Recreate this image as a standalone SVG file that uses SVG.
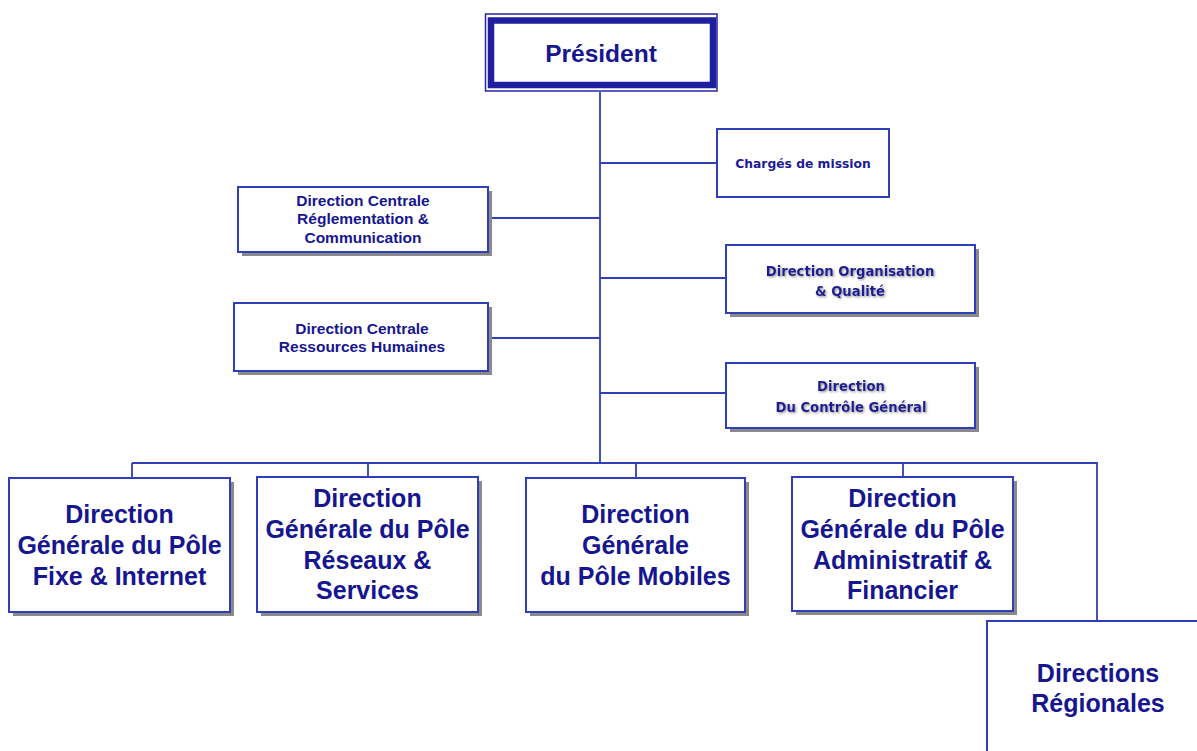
<svg xmlns="http://www.w3.org/2000/svg" width="1197" height="751" viewBox="0 0 1197 751">
<defs>
<style>
.box{fill:#ffffff;stroke:#2e3fb8;stroke-width:2}
.shadow{fill:#8a8a8a}
.ln{fill:none;stroke:#2e3fb8;stroke-width:1.8}
.t{font-family:"Liberation Sans",Arial,sans-serif;font-weight:bold;fill:#161690;text-anchor:middle}
.big{font-size:25px}
.mid{font-size:15.5px}
.v{font-family:"DejaVu Sans",Verdana,sans-serif;font-weight:bold;fill:#1c1c95;text-anchor:middle}
</style>
<filter id="ts" x="-10%" y="-30%" width="120%" height="160%">
<feDropShadow dx="1.2" dy="1.2" stdDeviation="0.8" flood-color="#777777" flood-opacity="0.8"/>
</filter>
</defs>
<rect width="1197" height="751" fill="#ffffff"/>
<g id="connectors">
<path class="ln" d="M600 92 V463"/>
<path class="ln" d="M600 163 H717"/>
<path class="ln" d="M488 218 H600"/>
<path class="ln" d="M488 338 H600"/>
<path class="ln" d="M600 278 H726"/>
<path class="ln" d="M600 393 H726"/>
<path class="ln" d="M132 463 H1097 V621"/>
<path class="ln" d="M132 463 V478"/>
<path class="ln" d="M368 463 V477"/>
<path class="ln" d="M636 463 V478"/>
<path class="ln" d="M903 463 V477"/>
</g>
<g id="president">
<rect x="485.5" y="14" width="231.5" height="77" fill="#ffffff" stroke="#2424a8" stroke-width="1.5"/>
<rect x="491" y="20.5" width="222" height="64.5" fill="none" stroke="#1f1fa0" stroke-width="6.5"/>
<text class="t" x="601" y="62" font-size="24.5">Président</text>
</g>
<g id="charges">
<rect class="box" x="717" y="129" width="172" height="68"/>
<text class="v" x="803" y="168" font-size="12.3">Chargés de mission</text>
</g>
<g id="dcrc">
<rect class="shadow" x="242" y="191" width="250" height="65"/>
<rect class="box" x="238" y="187" width="250" height="65"/>
<text class="t mid" x="363" y="205.5">Direction Centrale</text>
<text class="t mid" x="363" y="224">Réglementation &amp;</text>
<text class="t mid" x="363" y="242.5">Communication</text>
</g>
<g id="dcrh">
<rect class="shadow" x="238" y="307" width="254" height="68"/>
<rect class="box" x="234" y="303" width="254" height="68"/>
<text class="t mid" x="362" y="334">Direction Centrale</text>
<text class="t mid" x="362" y="352">Ressources Humaines</text>
</g>
<g id="organisation">
<rect class="shadow" x="730" y="249" width="249" height="68"/>
<rect class="box" x="726" y="245" width="249" height="68"/>
<g filter="url(#ts)">
<text class="v" x="850" y="276" font-size="13.2">Direction Organisation</text>
<text class="v" x="850" y="296" font-size="13.2">&amp; Qualité</text>
</g>
</g>
<g id="controle">
<rect class="shadow" x="730" y="367" width="249" height="65"/>
<rect class="box" x="726" y="363" width="249" height="65"/>
<g filter="url(#ts)">
<text class="v" x="851" y="391" font-size="13.2">Direction</text>
<text class="v" x="851" y="412" font-size="13.2">Du Contrôle Général</text>
</g>
</g>
<g id="pole-fixe">
<rect class="shadow" x="13" y="482" width="221" height="134"/>
<rect class="box" x="9" y="478" width="221" height="134"/>
<text class="t big" x="119.5" y="523">Direction</text>
<text class="t big" x="119.5" y="554">Générale du Pôle</text>
<text class="t big" x="119.5" y="585">Fixe &amp; Internet</text>
</g>
<g id="pole-reseaux">
<rect class="shadow" x="261" y="481" width="221" height="135"/>
<rect class="box" x="257" y="477" width="221" height="135"/>
<text class="t big" x="367.5" y="507">Direction</text>
<text class="t big" x="367.5" y="538">Générale du Pôle</text>
<text class="t big" x="367.5" y="569">Réseaux &amp;</text>
<text class="t big" x="367.5" y="599">Services</text>
</g>
<g id="pole-mobiles">
<rect class="shadow" x="530" y="482" width="219" height="134"/>
<rect class="box" x="526" y="478" width="219" height="134"/>
<text class="t big" x="635.5" y="523">Direction</text>
<text class="t big" x="635.5" y="554">Générale</text>
<text class="t big" x="635.5" y="585">du Pôle Mobiles</text>
</g>
<g id="pole-admin">
<rect class="shadow" x="796" y="481" width="221" height="134"/>
<rect class="box" x="792" y="477" width="221" height="134"/>
<text class="t big" x="902.5" y="507">Direction</text>
<text class="t big" x="902.5" y="538">Générale du Pôle</text>
<text class="t big" x="902.5" y="569">Administratif &amp;</text>
<text class="t big" x="902.5" y="599">Financier</text>
</g>
<g id="regionales">
<rect class="box" x="987" y="621" width="230" height="150"/>
<text class="t big" x="1098" y="682">Directions</text>
<text class="t big" x="1098" y="712">Régionales</text>
</g>
</svg>
